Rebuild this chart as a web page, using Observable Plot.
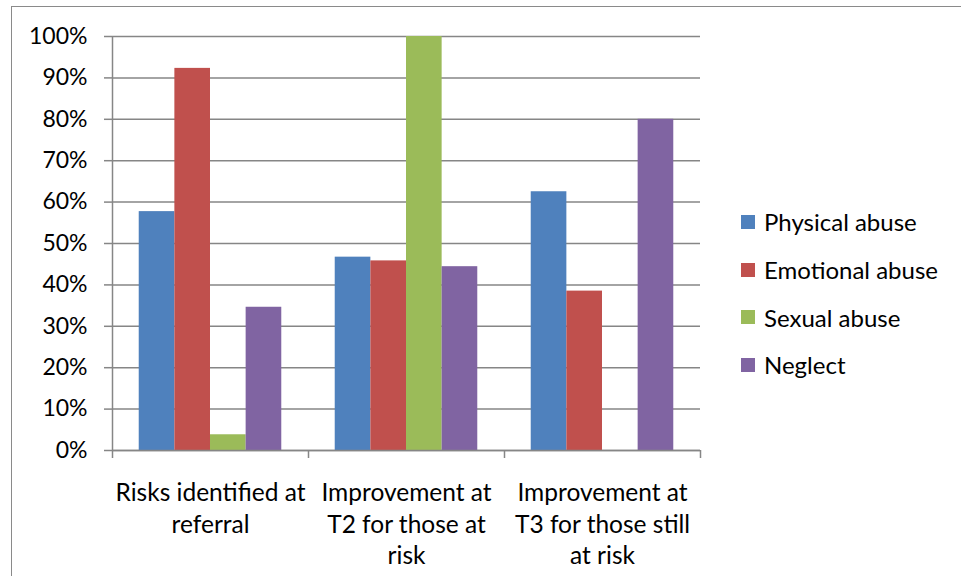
<!DOCTYPE html>
<html>
<head>
<meta charset="utf-8">
<script src="https://cdn.jsdelivr.net/npm/d3@7"></script>
<script src="https://cdn.jsdelivr.net/npm/@observablehq/plot@0.6"></script>
<style>
  html, body { margin: 0; padding: 0; background: #fff; overflow: hidden; }
  #wrap { position: relative; width: 961px; height: 576px; font-family: Lato, "Open Sans", sans-serif; }
  #border { position: absolute; left: 11px; top: 6px; width: 980px; height: 600px; border: 1.5px solid #8a8a8a; box-sizing: border-box; }
  #legend { position: absolute; left: 741px; top: 198px; font-size: 24px; color: #000; }
  #legend .row { display: flex; align-items: center; height: 47.7px; }
  #legend .sw { width: 14px; height: 14px; margin-right: 9px; }
</style>
</head>
<body>
<div id="wrap">
  <div id="border"></div>
  <div id="chart"></div>
  <div id="legend"></div>
</div>
<script>
// ---- data ----
const categories = [
  "Risks identified at\nreferral",
  "Improvement at\nT2 for those at\nrisk",
  "Improvement at\nT3 for those still\nat risk"
];
const series = ["Physical abuse", "Emotional abuse", "Sexual abuse", "Neglect"];
const physicalAbuse  = [0.577, 0.467, 0.625];
const emotionalAbuse = [0.923, 0.458, 0.385];
const sexualAbuse    = [0.038, 1.000, 0.000];
const neglect        = [0.346, 0.444, 0.800];
const yTicks = [0, 0.1, 0.2, 0.3, 0.4, 0.5, 0.6, 0.7, 0.8, 0.9, 1.0];
const yTickLabels = ["0%", "10%", "20%", "30%", "40%", "50%", "60%", "70%", "80%", "90%", "100%"];
const colors = ["#4F81BD", "#C0504D", "#9BBB59", "#8064A2"];

// ---- layout (Excel clustered columns, gap width 150%) ----
const gapWidth = 1.5;
const slots = series.length + gapWidth;
const valuesBySeries = [physicalAbuse, emotionalAbuse, sexualAbuse, neglect];
const rows = [];
categories.forEach((c, i) => {
  series.forEach((s, j) => {
    const x1 = i - 0.5 + (gapWidth / 2 + j) / slots;
    rows.push({ci: i, category: c, series: s, value: valuesBySeries[j][i], x1, x2: x1 + 1 / slots});
  });
});
const boundaries = d3.range(categories.length + 1).map(k => k - 0.5);
const centers = d3.range(categories.length);

const axisGray = "#868686";

const chart = Plot.plot({
  width: 961,
  height: 576,
  marginLeft: 112,
  marginRight: 261,
  marginTop: 36,
  marginBottom: 126,
  style: {fontFamily: "Lato, 'Open Sans', sans-serif", fontSize: "23px", background: "transparent", color: "#000"},
  x: {domain: [-0.5, categories.length - 0.5], axis: null},
  y: {domain: [0, 1], axis: null},
  color: {domain: series, range: colors},
  marks: [
    Plot.gridY({ticks: yTicks, stroke: axisGray, strokeOpacity: 1, strokeWidth: 1.5}),
    Plot.rectY(rows, {x1: "x1", x2: "x2", y: "value", fill: "series"}),
    Plot.ruleX([boundaries[0]], {stroke: axisGray, strokeWidth: 1.5}),
    Plot.ruleY([0], {stroke: axisGray, strokeWidth: 1.5}),
    Plot.axisY({ticks: yTicks, tickFormat: d => yTickLabels[yTicks.indexOf(d)], tickSize: 8, tickPadding: 17,
      stroke: axisGray, strokeWidth: 1.5, fill: "#000", fontSize: 23, label: null}),
    Plot.axisX({ticks: boundaries, tickSize: 8, tickFormat: () => "", stroke: axisGray, strokeWidth: 1.5, label: null}),
    Plot.axisX({ticks: centers, tickSize: 0, tickPadding: 28, tickFormat: i => categories[i],
      fill: "#000", fontSize: 24.5, lineHeight: 1.29, label: null})
  ]
});
document.getElementById("chart").appendChild(chart);

// legend
const legend = d3.select("#legend");
series.forEach((s, j) => {
  const row = legend.append("div").attr("class", "row");
  row.append("div").attr("class", "sw").style("background", colors[j]);
  row.append("span").text(s);
});
</script>
</body>
</html>
